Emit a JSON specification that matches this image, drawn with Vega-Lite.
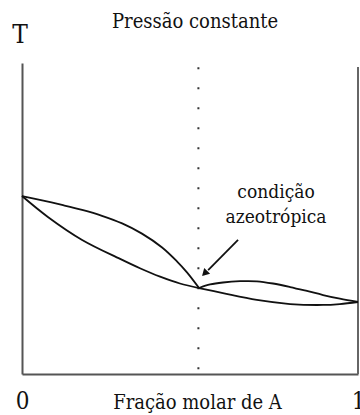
{
  "$schema": "https://vega.github.io/schema/vega-lite/v6.json",
  "width": 336,
  "height": 311,
  "autosize": "none",
  "padding": {"left": 22, "top": 63, "right": 2, "bottom": 41},
  "background": "white",
  "config": {"view": {"stroke": null}, "font": "DejaVu Serif Condensed, DejaVu Serif"},
  "datasets": {
    "curves": [
      {"s": "uL", "x": 0, "y": 57.23},
      {"s": "uL", "x": 0.060, "y": 55.82},
      {"s": "uL", "x": 0.119, "y": 54.37},
      {"s": "uL", "x": 0.179, "y": 52.77},
      {"s": "uL", "x": 0.238, "y": 50.87},
      {"s": "uL", "x": 0.298, "y": 48.42},
      {"s": "uL", "x": 0.357, "y": 45.14},
      {"s": "uL", "x": 0.417, "y": 40.68},
      {"s": "uL", "x": 0.461, "y": 36.24},
      {"s": "uL", "x": 0.491, "y": 32.70},
      {"s": "uL", "x": 0.527, "y": 27.65},
      {"s": "lL", "x": 0, "y": 57.23},
      {"s": "lL", "x": 0.077, "y": 50.5},
      {"s": "lL", "x": 0.179, "y": 43.1},
      {"s": "lL", "x": 0.292, "y": 37.0},
      {"s": "lL", "x": 0.351, "y": 34.0},
      {"s": "lL", "x": 0.411, "y": 31.3},
      {"s": "lL", "x": 0.470, "y": 29.1},
      {"s": "lL", "x": 0.527, "y": 27.65},
      {"s": "uR", "x": 0.527, "y": 27.65},
      {"s": "uR", "x": 0.560, "y": 28.78},
      {"s": "uR", "x": 0.598, "y": 29.42},
      {"s": "uR", "x": 0.649, "y": 29.84},
      {"s": "uR", "x": 0.699, "y": 29.81},
      {"s": "uR", "x": 0.747, "y": 29.10},
      {"s": "uR", "x": 0.798, "y": 27.97},
      {"s": "uR", "x": 0.848, "y": 26.69},
      {"s": "uR", "x": 0.896, "y": 25.4},
      {"s": "uR", "x": 0.946, "y": 24.21},
      {"s": "uR", "x": 1, "y": 23.15},
      {"s": "lR", "x": 0.527, "y": 27.65},
      {"s": "lR", "x": 0.598, "y": 26.0},
      {"s": "lR", "x": 0.699, "y": 23.8},
      {"s": "lR", "x": 0.798, "y": 22.5},
      {"s": "lR", "x": 0.896, "y": 22.2},
      {"s": "lR", "x": 0.946, "y": 22.5},
      {"s": "lR", "x": 1, "y": 23.15}
    ],
    "rules": [
      {"kind": "azeo", "x": 0.525, "y": 98.6, "y2": 0},
      {"kind": "right", "x": 1, "y": 98.7, "y2": 0}
    ],
    "labels": [
      {"x": 0.756, "y": 56.6, "t": "condição", "size": 19},
      {"x": 0.756, "y": 48.6, "t": "azeotrópica", "size": 19},
      {"x": -0.006, "y": 106.4, "t": "T", "size": 26},
      {"x": 0.515, "y": 111.3, "t": "Pressão constante", "size": 20}
    ],
    "arrow": [
      {"x": 0.643, "y": 43.1, "x2": 0.554, "y2": 33.4}
    ],
    "head": [
      {"x": 0.546, "y": 32.6}
    ]
  },
  "layer": [
    {
      "data": {"name": "rules"},
      "transform": [{"filter": "datum.kind == 'azeo'"}],
      "mark": {"type": "rule", "color": "#333", "strokeWidth": 2, "strokeDash": [2, 18]},
      "encoding": {
        "x": {"field": "x", "type": "quantitative", "scale": {"domain": [0, 1], "nice": false},
          "axis": {
            "values": [0, 1], "domain": true, "domainColor": "#555", "domainWidth": 2,
            "ticks": false, "grid": false, "labelFontSize": 24, "labelColor": "#111",
            "labelFont": "DejaVu Serif Condensed, DejaVu Serif",
            "labelBaseline": "alphabetic", "labelPadding": 34, "labelFlush": false,
            "labelBound": false, "labelOverlap": false, "format": "d",
            "title": "Fração molar de A", "titleFontSize": 20, "titleFontWeight": "normal",
            "titleFont": "DejaVu Serif Condensed, DejaVu Serif", "titleColor": "#111",
            "titleBaseline": "alphabetic", "titleAlign": "center", "titleAnchor": null,
            "titleX": 175, "titleY": 34
          }},
        "y": {"field": "y", "type": "quantitative", "scale": {"domain": [0, 100], "nice": false},
          "axis": {
            "domain": true, "domainColor": "#555", "domainWidth": 2,
            "ticks": false, "labels": false, "grid": false, "title": null
          }},
        "y2": {"field": "y2"}
      }
    },
    {
      "data": {"name": "rules"},
      "transform": [{"filter": "datum.kind == 'right'"}],
      "mark": {"type": "rule", "color": "#666", "strokeWidth": 2},
      "encoding": {
        "x": {"field": "x", "type": "quantitative"},
        "y": {"field": "y", "type": "quantitative"},
        "y2": {"field": "y2"}
      }
    },
    {
      "data": {"name": "curves"},
      "mark": {"type": "line", "color": "#111", "strokeWidth": 1.8, "interpolate": "catmull-rom"},
      "encoding": {
        "x": {"field": "x", "type": "quantitative"},
        "y": {"field": "y", "type": "quantitative"},
        "detail": {"field": "s"},
        "order": {"field": "x"}
      }
    },
    {
      "data": {"name": "arrow"},
      "mark": {"type": "rule", "color": "#111", "strokeWidth": 1.8},
      "encoding": {
        "x": {"field": "x", "type": "quantitative"},
        "y": {"field": "y", "type": "quantitative"},
        "x2": {"field": "x2"},
        "y2": {"field": "y2"}
      }
    },
    {
      "data": {"name": "head"},
      "mark": {"type": "point", "shape": "triangle", "filled": true, "color": "#111", "size": 70, "angle": 225, "opacity": 1},
      "encoding": {
        "x": {"field": "x", "type": "quantitative"},
        "y": {"field": "y", "type": "quantitative"}
      }
    },
    {
      "data": {"name": "labels"},
      "mark": {"type": "text", "font": "DejaVu Serif Condensed, DejaVu Serif", "color": "#111", "align": "center", "baseline": "alphabetic", "clip": false},
      "encoding": {
        "x": {"field": "x", "type": "quantitative"},
        "y": {"field": "y", "type": "quantitative"},
        "text": {"field": "t"},
        "size": {"field": "size", "type": "quantitative", "scale": null}
      }
    }
  ]
}
